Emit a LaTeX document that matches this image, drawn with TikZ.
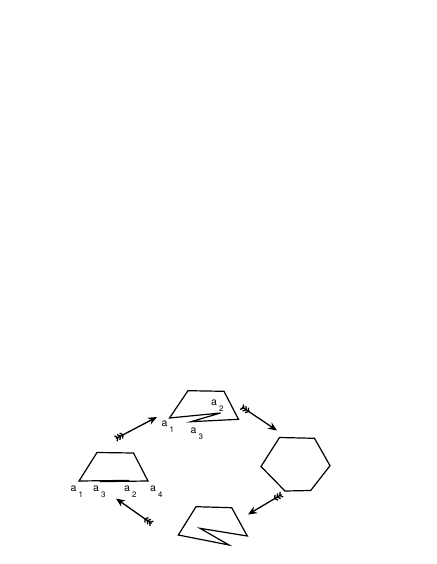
\documentclass[tikz,border=0pt]{standalone}
\usepackage{fontspec}
\setmainfont{TeX Gyre Heros}
\usetikzlibrary{calc}
\usetikzlibrary{arrows.meta}
\usetikzlibrary{decorations.markings}

\newcommand{\vlab}[1]{a\hspace{2pt}\raisebox{-6pt}{\fontsize{8}{8}\selectfont #1}}

\tikzset{
	poly/.style={line width=1.2pt, line join=miter},
	chev/.style={-, line width=1.3pt, line cap=butt},
	fletch/.style={line width=1.3pt, -{Stealth[length=9pt,width=7.5pt]},
		decoration={markings,
			mark=at position 2pt with {\draw[chev] (-2.2pt,3pt) -- (0,0) -- (-2.2pt,-3pt);},
			mark=at position 5pt with {\draw[chev] (-2.2pt,3pt) -- (0,0) -- (-2.2pt,-3pt);},
			mark=at position 8pt with {\draw[chev] (-2.2pt,3pt) -- (0,0) -- (-2.2pt,-3pt);}},
		postaction=decorate},
	vtx/.style={anchor=base west, inner sep=0pt, font=\fontsize{10.5}{10.5}\selectfont}
}

\begin{document}
\begin{tikzpicture}[x=1pt, y=-1pt]

	\useasboundingbox (0,0) rectangle (436,564);

% Define coordinates.

	%left trapezoid
	\coordinate (L1) at (79, 481);
	\coordinate (L2) at (129, 480.4);
	\coordinate (L3) at (100, 481.6);
	\coordinate (L4) at (148, 481);
	\coordinate (Ltr) at (133.5, 453);
	\coordinate (Ltl) at (97, 452.5);

	%top shape
	\coordinate (T1) at (169.5, 418);
	\coordinate (T2) at (220.5, 413);
	\coordinate (T3) at (191, 421.7);
	\coordinate (Tbr) at (238.5, 419.3);
	\coordinate (Ttr) at (224, 391.3);
	\coordinate (Ttl) at (188, 390.7);

	%hexagon
	\coordinate (H1) at (261, 466.5);
	\coordinate (H2) at (279.5, 437.5);
	\coordinate (H3) at (314.5, 438.3);
	\coordinate (H4) at (330, 465.7);
	\coordinate (H5) at (310.7, 490.5);
	\coordinate (H6) at (285, 491);

	%bottom shape
	\coordinate (Btl) at (196, 506.7);
	\coordinate (Btr) at (231.7, 507.7);
	\coordinate (Bbr) at (247.3, 536);
	\coordinate (Bin) at (200, 528.3);
	\coordinate (Bbot) at (229, 545);
	\coordinate (Bbl) at (178.3, 535);

	%arrow ends
	\coordinate (A1t) at (116, 438.5);
	\coordinate (A1h) at (157, 417);
	\coordinate (A2t) at (242, 407);
	\coordinate (A2h) at (277, 430.5);
	\coordinate (A3t) at (281.5, 494.5);
	\coordinate (A3h) at (248, 514.5);
	\coordinate (A4t) at (151.5, 523.5);
	\coordinate (A4h) at (116, 498.5);

% Draw shapes.

	\draw[poly] (L1) -- (L2) -- (L3) -- (L4) -- (Ltr) -- (Ltl) -- cycle;
	\draw[poly] (T1) -- (T2) -- (T3) -- (Tbr) -- (Ttr) -- (Ttl) -- cycle;
	\draw[poly] (H1) -- (H2) -- (H3) -- (H4) -- (H5) -- (H6) -- cycle;
	\draw[poly] (Btl) -- (Btr) -- (Bbr) -- (Bin) -- (Bbot) -- (Bbl) -- cycle;

% Draw arrows.

	\draw[fletch] (A1t) -- (A1h);
	\draw[fletch] (A2t) -- (A2h);
	\draw[fletch] (A3t) -- (A3h);
	\draw[fletch] (A4t) -- (A4h);

% Draw vertex labels.

	\node[vtx] (la1) at (70.5, 491) {\vlab{1}};
	\node[vtx] (la3) at (93, 491) {\vlab{3}};
	\node[vtx] (la2) at (124, 491) {\vlab{2}};
	\node[vtx] (la4) at (150, 491) {\vlab{4}};

	\node[vtx] (ta1) at (161.5, 426) {\vlab{1}};
	\node[vtx] (ta3) at (190.5, 433.5) {\vlab{3}};
	\node[vtx] (ta2) at (211, 405) {\vlab{2}};

\end{tikzpicture}
\end{document}
